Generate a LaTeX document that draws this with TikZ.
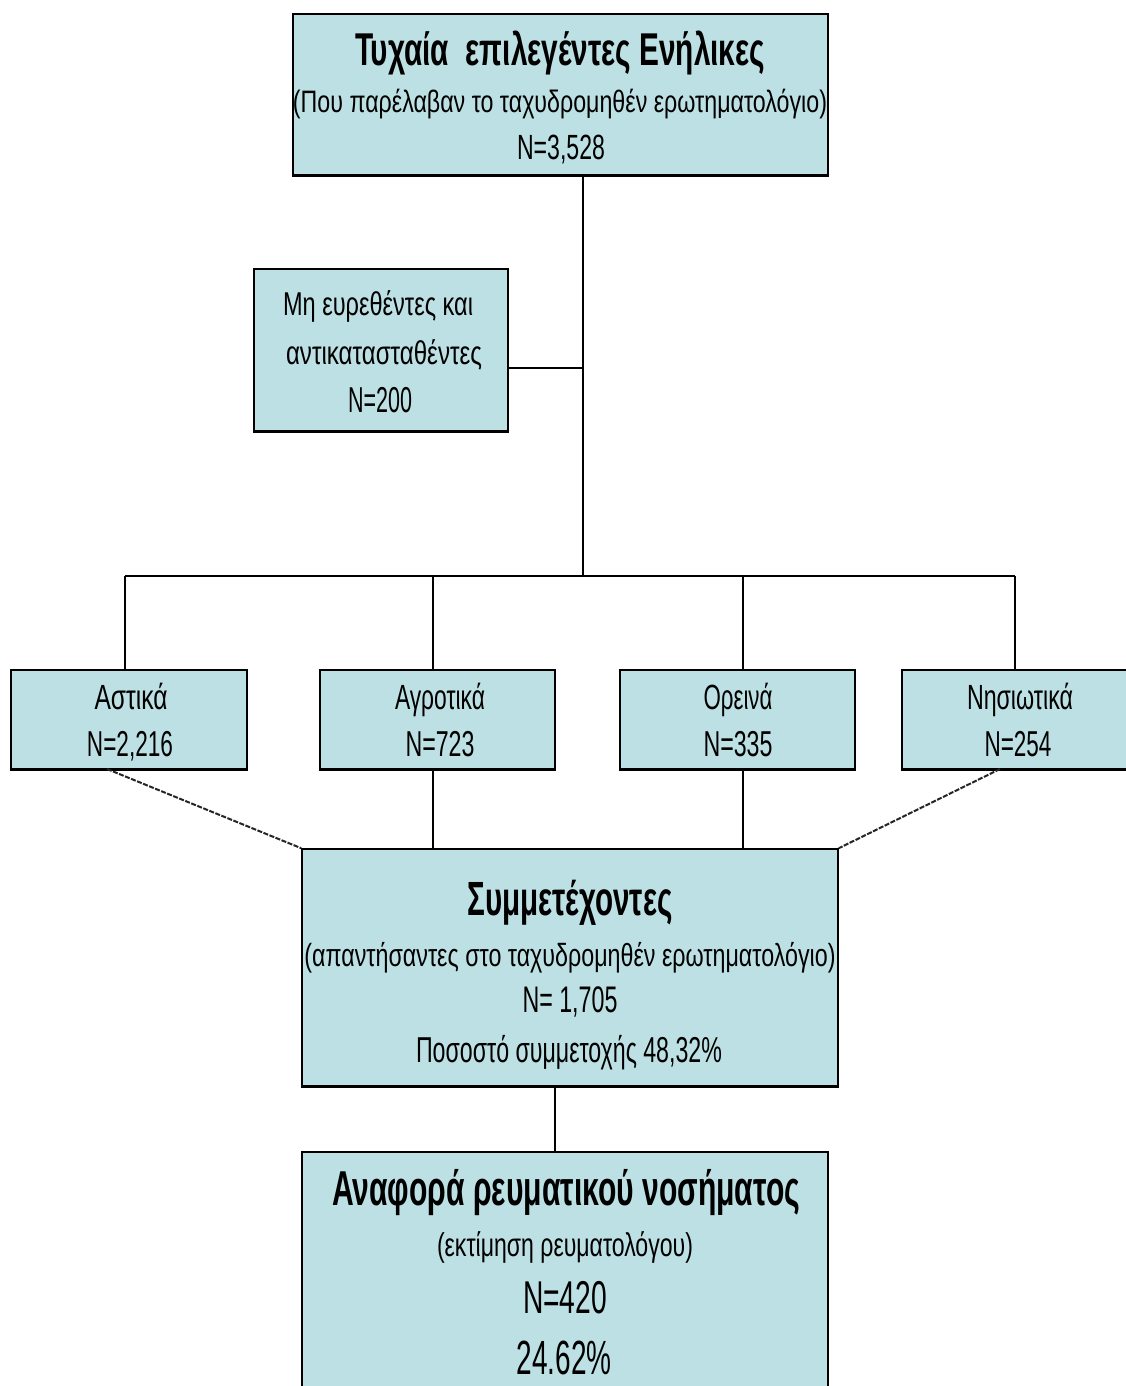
\documentclass[tikz,border=0pt]{standalone}
\usepackage{fontspec}
\setmainfont{Liberation Sans}
\usepackage{graphicx}
\definecolor{boxfill}{RGB}{188,224,227}
\newcommand\sqz[3]{\resizebox{#2bp}{\height}{\fontsize{#1bp}{#1bp}\selectfont #3}}
\tikzset{
  boxst/.style={draw=black, line width=1.6bp, fill=boxfill, inner sep=0pt, rectangle},
  txt/.style={inner sep=0pt, anchor=base, text=black},
  conn/.style={draw=black, line width=2bp},
  dotconn/.style={draw=black!85, line width=2bp, dash pattern=on 5bp off 1.5bp},
  shadowedge/.style={draw=black, line width=3bp}
}
\begin{document}
\begin{tikzpicture}[x=1bp, y=-1bp]
\useasboundingbox (0,0) rectangle (1125,1386);
\fill[white] (0,0) rectangle (1125,1386);

% coordinates of the junctions
\coordinate (j1) at (583,368);
\coordinate (bus) at (583,576);
\coordinate (b1) at (125,576);
\coordinate (b2) at (433,576);
\coordinate (b3) at (743,576);
\coordinate (b4) at (1015,576);

% boxes
\node[boxst, minimum width=535bp, minimum height=161bp] (top) at (560.5,94.5) {};
\node[boxst, minimum width=254bp, minimum height=162bp] (side) at (381,350) {};
\node[boxst, minimum width=236bp, minimum height=99bp] (astika) at (129,719.5) {};
\node[boxst, minimum width=235bp, minimum height=99bp] (agrotika) at (437.5,719.5) {};
\node[boxst, minimum width=235bp, minimum height=99bp] (oreina) at (737.5,719.5) {};
\node[boxst, minimum width=226bp, minimum height=99bp] (nisiotika) at (1015,719.5) {};
\node[boxst, minimum width=536bp, minimum height=237bp] (mid) at (570,967.5) {};
\node[boxst, minimum width=526bp, minimum height=260bp] (bot) at (565,1282) {};

% thicker bottom edges
\foreach \b in {top,side,astika,agrotika,oreina,nisiotika,mid}
  \draw[shadowedge] (\b.south west) -- (\b.south east);

% connectors
\draw[conn] (top.south -| j1) -- (bus);
\draw[conn] (side.east |- j1) -- (j1);
\draw[conn] (b1) -- (b4);
\draw[conn] (b1) -- (astika.north -| b1);
\draw[conn] (b2) -- (agrotika.north -| b2);
\draw[conn] (b3) -- (oreina.north -| b3);
\draw[conn] (b4) -- (nisiotika.north -| b4);
\draw[conn] (agrotika.south -| b2) -- (mid.north -| b2);
\draw[conn] (oreina.south -| b3) -- (mid.north -| b3);
\coordinate (d1) at (107,769);
\coordinate (d2) at (1000,769);
\draw[dotconn] (d1) -- (mid.north west);
\draw[dotconn] (d2) -- (mid.north east);
\coordinate (bl) at (555,1086);
\draw[conn] (mid.south -| bl) -- (bot.north -| bl);

% texts: top box
\node[txt] (t1) at (560,66) {\sqz{46}{410}{\bfseries Τυχαία\ \ επιλεγέντες Ενήλικες}};
\node[txt] (t2) at (560,113) {\sqz{31}{534}{(Που παρέλαβαν το ταχυδρομηθέν ερωτηματολόγιο)}};
\node[txt] (t3) at (561,160) {\sqz{35}{88}{N=3,528}};

% side box
\node[txt] (s1) at (378,315) {\sqz{33}{190}{Μη ευρεθέντες και}};
\node[txt] (s2) at (384,364) {\sqz{33}{196}{αντικατασταθέντες}};
\node[txt] (s3) at (380,412) {\sqz{36}{64}{N=200}};

% small boxes
\node[txt] (a1) at (131,709) {\sqz{35}{73}{Αστικά}};
\node[txt] (a2) at (130,756) {\sqz{36}{86}{N=2,216}};
\node[txt] (g1) at (440,709) {\sqz{35}{90}{Αγροτικά}};
\node[txt] (g2) at (440,756) {\sqz{36}{69}{N=723}};
\node[txt] (o1) at (738,709) {\sqz{35}{69}{Ορεινά}};
\node[txt] (o2) at (738,756) {\sqz{36}{69}{N=335}};
\node[txt] (n1) at (1020,709) {\sqz{35}{106}{Νησιωτικά}};
\node[txt] (n2) at (1018,756) {\sqz{36}{67}{N=254}};

% middle box
\node[txt] (m1) at (570,915) {\sqz{48}{205}{\bfseries Συμμετέχοντες}};
\node[txt] (m2) at (570,966) {\sqz{32}{531}{(απαντήσαντες στο ταχυδρομηθέν ερωτηματολόγιο)}};
\node[txt] (m3) at (570,1012) {\sqz{37}{95}{N= 1,705}};
\node[txt] (m4) at (569,1062) {\sqz{36}{306}{Ποσοστό συμμετοχής 48,32\%}};

% bottom box
\node[txt] (r1) at (566,1205) {\sqz{49}{468}{\bfseries Αναφορά ρευματικού νοσήματος}};
\node[txt] (r2) at (565,1256) {\sqz{33}{256}{(εκτίμηση ρευματολόγου)}};
\node[txt] (r3) at (565,1313) {\sqz{46}{84}{N=420}};
\node[txt] (r4) at (564,1374) {\sqz{48}{95}{24.62\%}};
\end{tikzpicture}
\end{document}
